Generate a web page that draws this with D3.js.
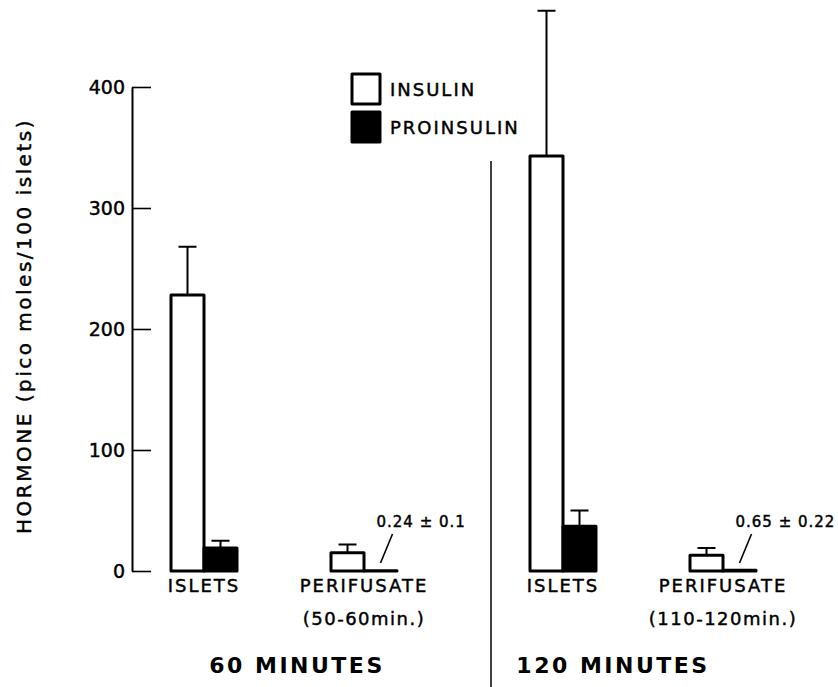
<!DOCTYPE html>
<html>
<head>
<meta charset="utf-8">
<script src="https://cdn.jsdelivr.net/npm/d3@7"></script>
<style>
  body { margin: 0; background: #fff; }
  text { font-family: "DejaVu Sans", sans-serif; fill: #000; }
  .ink { stroke: #000; stroke-width: 0.45px; }
</style>
</head>
<body>
<div id="chart"></div>
<script>
// data
var panels = ["60 MINUTES", "120 MINUTES"];
var groups = ["ISLETS", "PERIFUSATE"];
var periods = ["", "(50-60min.)", "", "(110-120min.)"];
var series = ["INSULIN", "PROINSULIN"];
var insulin = [228, 15, 343, 13];
var insulinSE = [40, 7, 120, 6];
var proinsulin = [19, 0.24, 37, 0.65];
var proinsulinSE = [6, 0.1, 13, 0.22];
var notes = ["", "0.24 \u00b1 0.1", "", "0.65 \u00b1 0.22"];
var yTicks = [0, 100, 200, 300, 400];

var width = 838, height = 687;

var svg = d3.select("#chart")
  .append("svg")
    .attr("width", width)
    .attr("height", height);

var rows = insulin.map(function(v, i) {
  return {
    panel: panels[Math.floor(i / 2)],
    group: groups[i % 2],
    period: periods[i],
    note: notes[i],
    values: [
      {s: series[0], v: v, se: insulinSE[i]},
      {s: series[1], v: proinsulin[i], se: proinsulinSE[i]}
    ]
  };
});

// scales
var y = d3.scaleLinear().domain([0, 400]).range([571, 87]);
var xPanel = d3.scaleBand().domain(panels).range([132, 850]);
var xGroup = d3.scalePoint().domain(groups).range([72, 232]);
var xSeries = d3.scaleBand().domain(series).range([-33, 33]);
function cx(d) { return xPanel(d.panel) + xGroup(d.group); }

// Y axis, ticks pointing inward
var yAxis = svg.append("g")
  .attr("transform", "translate(132,0)")
  .call(d3.axisLeft(y).tickValues(yTicks).tickSizeInner(-19).tickSizeOuter(0).tickPadding(7));
yAxis.select(".domain").attr("stroke-width", 2);
yAxis.selectAll(".tick line").attr("stroke-width", 1.6);
yAxis.selectAll(".tick text")
  .attr("class", "ink")
  .attr("font-size", "19px")
  .style("font-family", "DejaVu Sans, sans-serif")
  .attr("fill", "#000");

svg.append("text")
  .attr("class", "ink")
  .attr("transform", "translate(24,326)rotate(-90)")
  .attr("text-anchor", "middle")
  .attr("dy", "0.35em")
  .attr("font-size", "20px")
  .attr("letter-spacing", "2.5px")
  .text("HORMONE (pico moles/100 islets)");

// divider between the two time points
svg.append("line")
  .attr("x1", xPanel(panels[1])).attr("x2", xPanel(panels[1]))
  .attr("y1", 161).attr("y2", height)
  .attr("stroke", "#000").attr("stroke-width", 1.5);

// bars
var g = svg.selectAll(".grp")
  .data(rows)
  .enter()
  .append("g")
    .attr("class", "grp");

g.selectAll("rect")
  .data(function(d) { return d.values.map(function(e) { return {c: cx(d), s: e.s, v: e.v, se: e.se}; }); })
  .enter()
  .append("rect")
    .attr("x", function(e) { return e.c + xSeries(e.s); })
    .attr("y", function(e) { return y(e.v); })
    .attr("width", xSeries.bandwidth())
    .attr("height", function(e) { return y(0) - y(e.v); })
    .attr("fill", function(e) { return e.s === series[0] ? "#fff" : "#000"; })
    .attr("stroke", "#000")
    .attr("stroke-width", 3)
    .attr("stroke-linejoin", "round");

// error bars (skip the tiny proinsulin ones that are annotated)
var errs = [];
rows.forEach(function(d) {
  d.values.forEach(function(e) {
    if (e.v > 1) errs.push({x: cx(d) + xSeries(e.s) + xSeries.bandwidth() / 2, v: e.v, se: e.se});
  });
});
svg.selectAll(".err")
  .data(errs)
  .enter()
  .append("path")
    .attr("class", "err")
    .attr("fill", "none")
    .attr("stroke", "#000")
    .attr("stroke-width", 2)
    .attr("d", function(e) {
      var top = y(e.v + e.se);
      return "M" + e.x + "," + y(e.v) + "V" + top + "M" + (e.x - 9) + "," + top + "H" + (e.x + 9);
    });

// notes for the tiny proinsulin values
var noted = rows.filter(function(d) { return d.note; });
noted.forEach(function(d) {
  var px = cx(d) + xSeries(series[1]) + xSeries.bandwidth() / 2;
  svg.append("line")
    .attr("x1", px).attr("y1", y(0) - 8)
    .attr("x2", px + 12).attr("y2", y(0) - 37)
    .attr("stroke", "#000").attr("stroke-width", 1.6);
  svg.append("text")
    .attr("class", "ink")
    .attr("x", px - 4)
    .attr("y", y(0) - 44)
    .attr("font-size", "15px")
    .attr("letter-spacing", "1px")
    .text(d.note);
});

// category labels
g.append("text")
  .attr("class", "ink")
  .attr("x", function(d) { return cx(d); })
  .attr("y", 586)
  .attr("dy", "0.35em")
  .attr("text-anchor", "middle")
  .attr("font-size", "18px")
  .attr("letter-spacing", "2px")
  .text(function(d) { return d.group; });

g.append("text")
  .attr("class", "ink")
  .attr("x", function(d) { return cx(d); })
  .attr("y", 619)
  .attr("dy", "0.35em")
  .attr("text-anchor", "middle")
  .attr("font-size", "18px")
  .attr("letter-spacing", "1.5px")
  .text(function(d) { return d.period; });

// panel titles
svg.selectAll(".ptitle")
  .data(panels)
  .enter()
  .append("text")
    .attr("class", "ptitle")
    .attr("x", function(p, i) { return xPanel(p) + (i === 0 ? 165 : 122); })
    .attr("y", 665)
    .attr("dy", "0.35em")
    .attr("text-anchor", "middle")
    .attr("font-size", "22px")
    .attr("font-weight", "bold")
    .attr("letter-spacing", "2.5px")
    .text(function(p) { return p; });

// legend
var legend = svg.selectAll(".leg")
  .data(series)
  .enter()
  .append("g")
    .attr("class", "leg")
    .attr("transform", function(s, i) { return "translate(352," + (74 + i * 38) + ")"; });
legend.append("rect")
  .attr("width", 28).attr("height", 30)
  .attr("fill", function(s, i) { return i === 0 ? "#fff" : "#000"; })
  .attr("stroke", "#000").attr("stroke-width", 3)
  .attr("stroke-linejoin", "round");
legend.append("text")
  .attr("class", "ink")
  .attr("x", 38).attr("y", 16)
  .attr("dy", "0.35em")
  .attr("font-size", "18px")
  .attr("letter-spacing", "2px")
  .text(function(s) { return s; });
</script>
</body>
</html>
